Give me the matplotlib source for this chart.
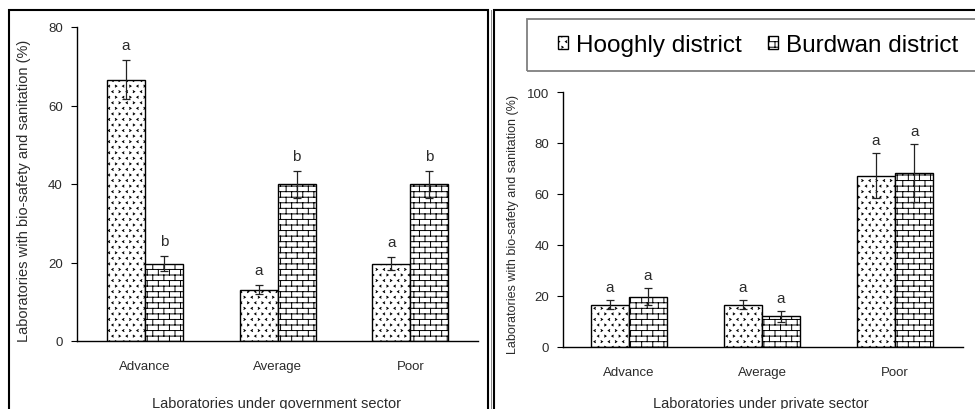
import warnings
import numpy as np
import matplotlib
matplotlib.use('Agg')
import matplotlib.pyplot as plt
import matplotlib.hatch as mhatch
from matplotlib.path import Path
from matplotlib.patches import Rectangle
from matplotlib.lines import Line2D

warnings.filterwarnings('ignore')

# ---------------- data ----------------
categories = ['Advance', 'Average', 'Poor']
series_names = ['Hooghly district', 'Burdwan district']

gov_hooghly = [66.6, 13.1, 19.7]
gov_hooghly_err = [5.0, 1.1, 1.7]
gov_burdwan = [19.7, 39.9, 39.9]
gov_burdwan_err = [1.9, 3.4, 3.4]
gov_letters_hooghly = ['a', 'a', 'a']
gov_letters_burdwan = ['b', 'b', 'b']

pri_hooghly = [16.6, 16.6, 67.1]
pri_hooghly_err = [1.7, 1.7, 8.8]
pri_burdwan = [19.8, 12.0, 68.1]
pri_burdwan_err = [3.3, 2.1, 11.4]
pri_letters_hooghly = ['a', 'a', 'a']
pri_letters_burdwan = ['a', 'a', 'a']

gov_yticks = [0, 20, 40, 60, 80]
pri_yticks = [0, 20, 40, 60, 80, 100]


# ---------------- custom hatches ----------------
class BrickHatch(mhatch.HatchPatternBase):
    rows = 18
    cols = 9

    def __init__(self, hatch, density):
        self.active = 'B' in hatch
        n = self.rows * 2 + self.rows * self.cols * 2 + self.cols * 2
        self.num_vertices = n if self.active else 0

    def set_vertices_and_codes(self, vertices, codes):
        v = []
        R, C = self.rows, self.cols
        for r in range(R):
            y0 = (r + 0.5) / R
            v += [(0.0, y0), (1.0, y0)]
            off = 0.5 * (r % 2) / C
            for c in range(C):
                x = c / C + off + 0.25 / C
                if r < R - 1:
                    v += [(x, y0), (x, (r + 1.5) / R)]
                else:
                    v += [(x, y0), (x, 1.0)]
        off = 0.5 * ((R - 1) % 2) / C
        for c in range(C):
            x = c / C + off + 0.25 / C
            v += [(x, 0.0), (x, 0.5 / R)]
        vertices[:] = np.array(v)
        codes[0::2] = Path.MOVETO
        codes[1::2] = Path.LINETO


class ChevronHatch(mhatch.HatchPatternBase):
    rows = 18
    cols = 14

    def __init__(self, hatch, density):
        self.active = 'C' in hatch
        self.num_vertices = self.rows * self.cols * 3 if self.active else 0

    def set_vertices_and_codes(self, vertices, codes):
        v = []
        w, h = 0.007, 0.009
        R, C = self.rows, self.cols
        for r in range(R):
            y = (r + 0.5) / R
            for c in range(C):
                x = (c + 0.5 * (r % 2) + 0.25) / C
                if c % 2 == 0:
                    v += [(x - w, y + h), (x + w, y), (x - w, y - h)]
                else:
                    v += [(x + w, y + h), (x - w, y), (x + w, y - h)]
        vertices[:] = np.array(v)
        codes[0::3] = Path.MOVETO
        codes[1::3] = Path.LINETO
        codes[2::3] = Path.LINETO


mhatch._hatch_types.append(BrickHatch)
mhatch._hatch_types.append(ChevronHatch)

plt.rcParams['font.family'] = ['Liberation Sans', 'DejaVu Sans']
plt.rcParams['hatch.linewidth'] = 0.7
plt.rcParams['hatch.color'] = 'black'

TXT = '#2b2b2b'

fig = plt.figure(figsize=(9.75, 4.1), dpi=100)
W, H = 975.0, 410.0


def fx(px):
    return px / W


def fy(py):
    return 1 - py / H


ax1 = fig.add_axes([fx(76.7), fy(342), fx(478) - fx(76.7), fy(28) - fy(342)])
ax2 = fig.add_axes([fx(563), fy(348), fx(963) - fx(563), fy(93) - fy(348)])

bw = 0.286


def draw_panel(ax, h_vals, h_err, b_vals, b_err, lh, lb, yticks, ymax,
               xlim, tick_size, letter_off):
    x = np.arange(len(categories))
    bh = ax.bar(x - bw / 2, h_vals, bw, color='white', edgecolor='black',
                linewidth=1.0, hatch='C', label=series_names[0], zorder=2)
    bb = ax.bar(x + bw / 2, b_vals, bw, color='white', edgecolor='black',
                linewidth=1.0, hatch='B', label=series_names[1], zorder=2)
    ax.errorbar(x - bw / 2, h_vals, yerr=h_err, fmt='none', ecolor='#222222',
                elinewidth=0.9, capsize=3, capthick=0.9, zorder=3)
    ax.errorbar(x + bw / 2, b_vals, yerr=b_err, fmt='none', ecolor='#222222',
                elinewidth=0.9, capsize=3, capthick=0.9, zorder=3)
    for xi, v, e, t in zip(x - bw / 2, h_vals, h_err, lh):
        ax.annotate(t, (xi, v + e), xytext=(0, letter_off),
                    textcoords='offset pixels', ha='center', va='bottom',
                    fontsize=11, color=TXT)
    for xi, v, e, t in zip(x + bw / 2, b_vals, b_err, lb):
        ax.annotate(t, (xi, v + e), xytext=(0, letter_off),
                    textcoords='offset pixels', ha='center', va='bottom',
                    fontsize=11, color=TXT)
    ax.set_xlim(*xlim)
    ax.set_ylim(0, ymax)
    ax.set_yticks(yticks)
    ax.set_xticks(x)
    ax.set_xticklabels(categories, fontsize=9.5, color=TXT)
    ax.tick_params(axis='x', length=0, pad=14)
    ax.tick_params(axis='y', length=4, width=0.8, direction='out', pad=6,
                   labelsize=tick_size, labelcolor=TXT)
    for s in ['top', 'right']:
        ax.spines[s].set_visible(False)
    for s in ['left', 'bottom']:
        ax.spines[s].set_linewidth(1.0)
        ax.spines[s].set_color('black')
    ax.set_facecolor('none')
    return bh, bb


draw_panel(ax1, gov_hooghly, gov_hooghly_err, gov_burdwan, gov_burdwan_err,
           gov_letters_hooghly, gov_letters_burdwan, gov_yticks, 80,
           (-0.514, 2.51), 9.5, 8)
bh, bb = draw_panel(ax2, pri_hooghly, pri_hooghly_err, pri_burdwan,
                    pri_burdwan_err, pri_letters_hooghly, pri_letters_burdwan,
                    pri_yticks, 100, (-0.496, 2.51), 9.5, 6)

# axis titles
ylab = 'Laboratories with bio-safety and sanitation (%)'
fig.text(fx(24), fy(191), ylab, rotation=90, ha='center', va='center',
         fontsize=10.5, color=TXT)
fig.text(fx(513), fy(225), ylab, rotation=90, ha='center', va='center',
         fontsize=9, color=TXT)
fig.text(fx(277), fy(404), 'Laboratories under government sector',
         ha='center', va='center', fontsize=10.5, color=TXT)
fig.text(fx(761), fy(404), 'Laboratories under private sector',
         ha='center', va='center', fontsize=10.5, color=TXT)

# legend box (extends past the right edge, as in the reference)
fig.patches.append(Rectangle((fx(527), fy(72)), fx(1010) - fx(527),
                             fy(20) - fy(72), transform=fig.transFigure,
                             fill=False, edgecolor='#7f7f7f', linewidth=1.3))
leg = fig.legend([bh, bb], series_names, loc='center',
                 bbox_to_anchor=(fx(758), fy(46)), ncol=2, fontsize=17.5,
                 frameon=False, handlelength=0.42, handleheight=0.42,
                 handletextpad=0.3, columnspacing=1.1, borderpad=0.45,
                 borderaxespad=0)

# panel frames
fig.patches.append(Rectangle((fx(9), -0.2), fx(488) - fx(9), fy(11) + 0.2,
                             transform=fig.transFigure, fill=False,
                             edgecolor='black', linewidth=1.5))
fig.patches.append(Rectangle((fx(493.5), -0.2), fx(1000) - fx(493.5),
                             fy(11) + 0.2, transform=fig.transFigure,
                             fill=False, edgecolor='black', linewidth=1.5))
fig.lines.append(Line2D([fx(490.7), fx(490.7)], [-0.1, fy(11)],
                        transform=fig.transFigure, color='#888888',
                        linewidth=0.7))

fig.savefig('out.png', dpi=100)
